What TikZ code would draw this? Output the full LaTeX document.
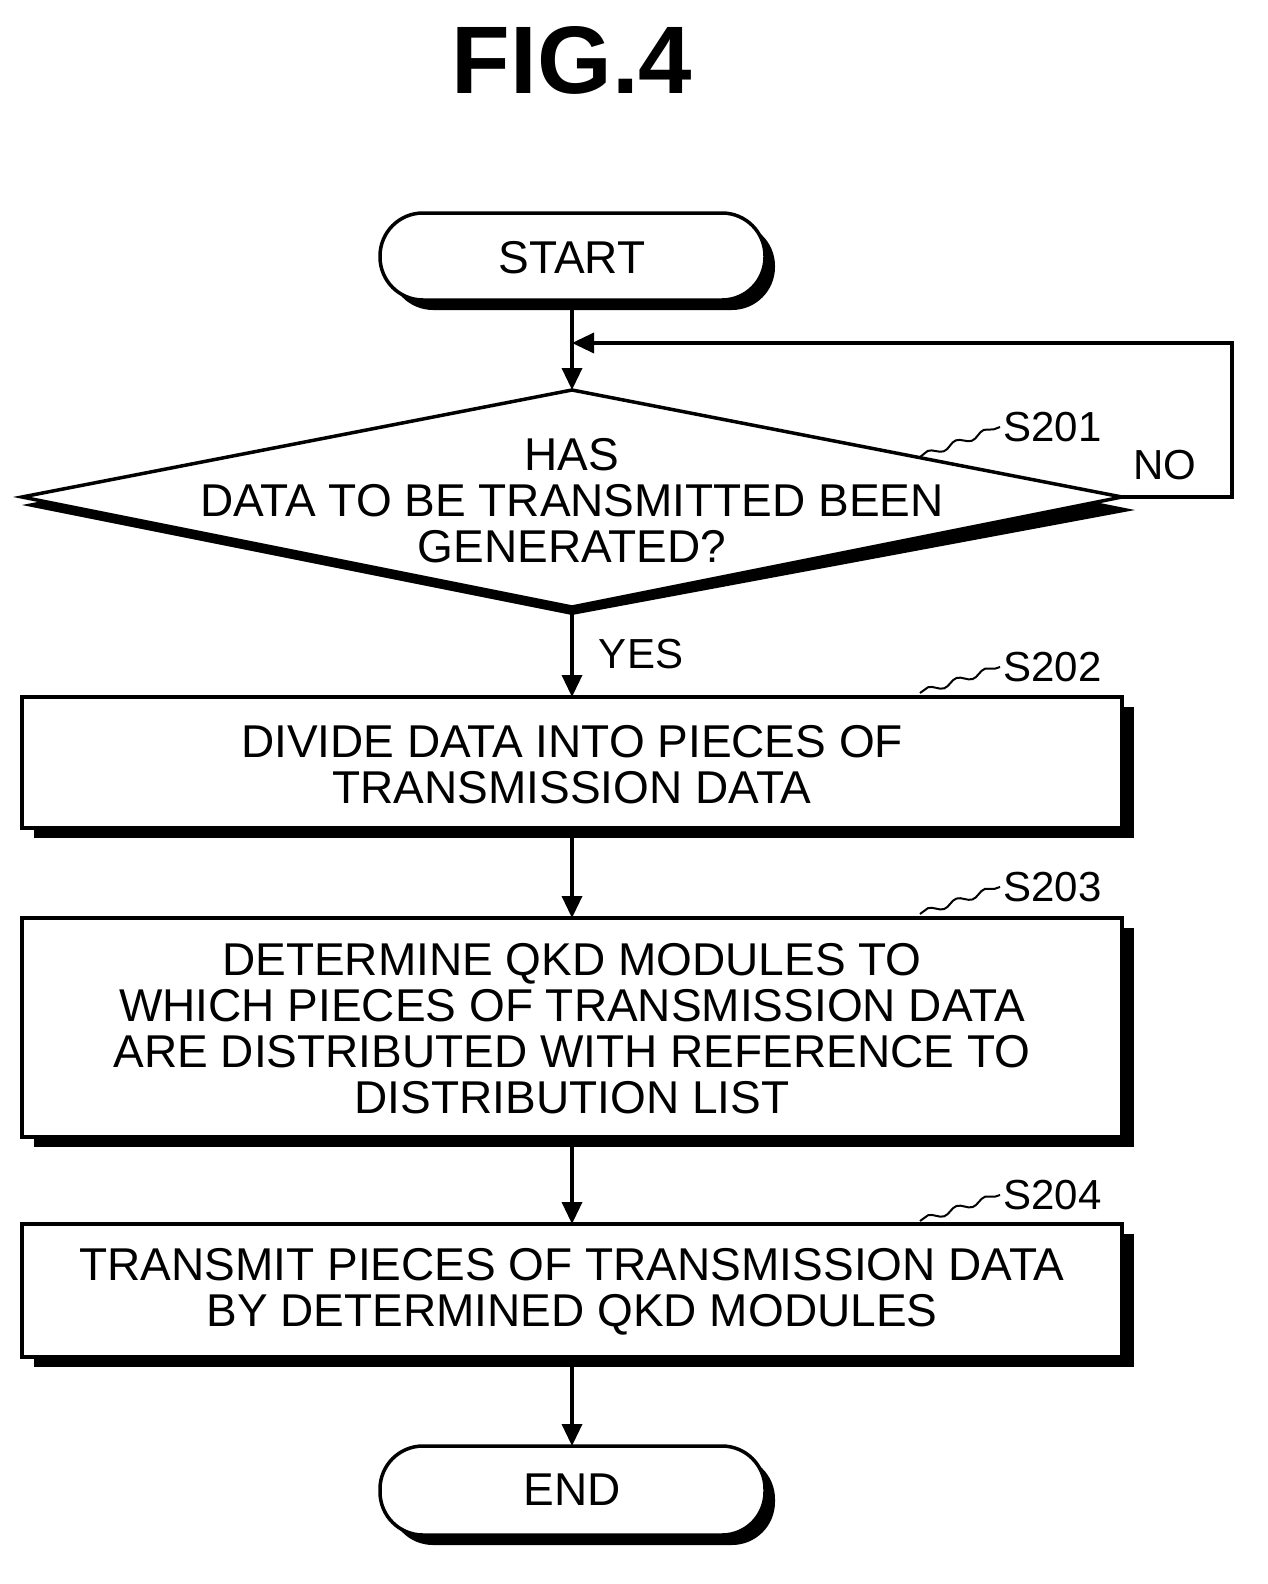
\documentclass[tikz,border=0pt]{standalone}
\usepackage{fontspec}
\setmainfont{Liberation Sans}
\usetikzlibrary{arrows.meta,shapes.geometric,decorations.pathmorphing}
\begin{document}
\begin{tikzpicture}[x=1pt,y=-1pt,
  txt/.style={font=\fontsize{46}{46}\selectfont, align=center, text=black},
  ln/.style={line width=3.5pt},
  arr/.style={ln,-{Triangle[length=22pt,width=20pt]}},
  lbl/.style={font=\fontsize{42}{44}\selectfont, anchor=west},
  sq/.style={line width=2pt, decorate, decoration={snake,amplitude=3pt,segment length=30pt}}]
\useasboundingbox (0,0) rectangle (1268,1584);
\node[font=\fontsize{96}{100}\selectfont\bfseries] (title) at (572,60) {FIG.4};
\newcommand{\pill}[4]{%
  \fill[black,rounded corners=43pt] (#1+10,#2+10) rectangle (#3+10,#4+10);
  \draw[ln,fill=white,rounded corners=43pt] (#1,#2) rectangle (#3,#4);}
\newcommand{\boxx}[4]{%
  \fill[black] (#1+12,#2+10) rectangle (#3+12,#4+10);
  \draw[ln,fill=white] (#1,#2) rectangle (#3,#4);}
\pill{380}{213}{765}{300}
\node[txt] (start) at (572,258) {START};
\fill[black] (22,505) -- (572,398) -- (1135,510) -- (572,615) -- cycle;
\draw[ln,fill=white] (22,497) -- (572,390) -- (1122,497) -- (572,607) -- cycle;
\coordinate (dtop) at (572,390);
\coordinate (dbot) at (572,607);
\coordinate (dright) at (1122,497);
\node[txt] (d) at (572,501) {HAS\\DATA TO BE TRANSMITTED BEEN\\GENERATED?};
\boxx{22}{697}{1122}{828}
\node[txt] (b2) at (572,765) {DIVIDE DATA INTO PIECES OF\\TRANSMISSION DATA};
\boxx{22}{918}{1122}{1137}
\node[txt] (b3) at (572,1029) {DETERMINE QKD MODULES TO\\WHICH PIECES OF TRANSMISSION DATA\\ARE DISTRIBUTED WITH REFERENCE TO\\DISTRIBUTION LIST};
\boxx{22}{1224}{1122}{1357}
\node[txt] (b4) at (572,1292) {TRANSMIT PIECES OF TRANSMISSION DATA\\BY DETERMINED QKD MODULES};
\pill{380}{1446}{765}{1535}
\node[txt] (end) at (572,1490) {END};
\coordinate (s1) at (572,300);
\coordinate (b2t) at (572,697); \coordinate (b2b) at (572,828);
\coordinate (b3t) at (572,918); \coordinate (b3b) at (572,1137);
\coordinate (b4t) at (572,1224); \coordinate (b4b) at (572,1357);
\coordinate (et) at (572,1446);
\coordinate (loopin) at (572,343);
\draw[arr] (s1) -- (dtop);
\draw[arr] (dright) -- (1232,497) -- (1232,343) -- (loopin);
\draw[arr] (dbot) -- (b2t);
\draw[arr] (b2b) -- (b3t);
\draw[arr] (b3b) -- (b4t);
\draw[arr] (b4b) -- (et);
\node[lbl] (l1) at (1000,427) {S201};
\draw[sq] (920,457) -- (l1.west);
\node[font=\fontsize{42}{44}\selectfont] (no) at (1165,465) {NO};
\node[font=\fontsize{42}{44}\selectfont] (yes) at (641,654) {YES};
\node[lbl] (l2) at (1000,667) {S202};
\draw[sq] (920,693) -- (l2.west);
\node[lbl] (l3) at (1000,887) {S203};
\draw[sq] (920,914) -- (l3.west);
\node[lbl] (l4) at (1000,1195) {S204};
\draw[sq] (920,1221) -- (l4.west);
\end{tikzpicture}
\end{document}
